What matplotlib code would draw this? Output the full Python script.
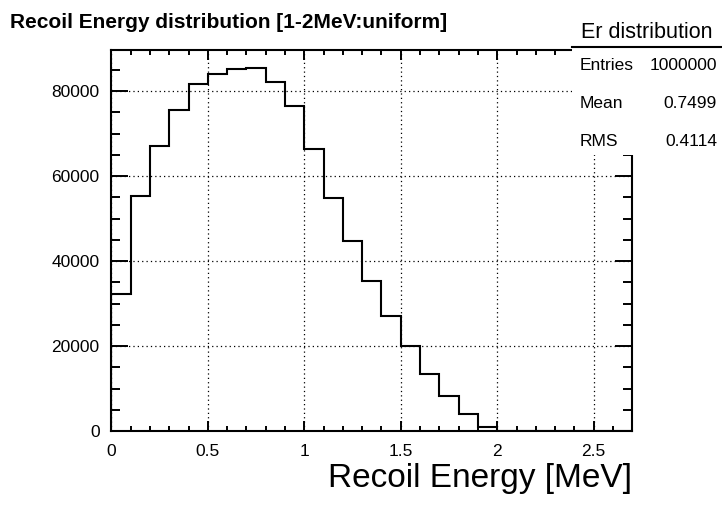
import numpy as np
import matplotlib
matplotlib.use('Agg')
import matplotlib.pyplot as plt
from matplotlib.ticker import MultipleLocator

plt.rcParams['font.family'] = ['Liberation Sans', 'DejaVu Sans']

# recoil energy histogram, 0.1 MeV bins from 0 to 2.7
edges = np.round(np.arange(0, 2.71, 0.1), 2)
counts = [32170, 55220, 67130, 75460, 81650, 84070, 85250, 85490, 82050, 76400,
          66280, 54900, 44780, 35370, 27130, 19950, 13490, 8160, 4000, 900,
          0, 0, 0, 0, 0, 0, 0]
stat_names = ['Entries', 'Mean', 'RMS']
stat_values = ['1000000', '0.7499', '0.4114']

fig = plt.figure(figsize=(7.22, 5.05), dpi=100)
ax = fig.add_axes([0.1542, 0.1465, 0.7216, 0.7545])

ax.stairs(counts, edges, color='black', lw=1.5)
ax.set_xlim(0, 2.7)
ax.set_ylim(0, 89650)

ax.xaxis.set_major_locator(MultipleLocator(0.5))
ax.xaxis.set_minor_locator(MultipleLocator(0.1))
ax.yaxis.set_major_locator(MultipleLocator(20000))
ax.yaxis.set_minor_locator(MultipleLocator(5000))
ax.set_xticks([0, 0.5, 1, 1.5, 2, 2.5])
ax.set_xticklabels(['0', '0.5', '1', '1.5', '2', '2.5'])
ax.tick_params(which='both', direction='in', top=True, right=True, labelsize=12.5)
ax.tick_params(axis='x', which='major', length=7.2, width=1.4, pad=9)
ax.tick_params(axis='x', which='minor', length=3.6, width=1.4)
ax.tick_params(axis='y', which='major', length=12, width=1.4, pad=8.5)
ax.tick_params(axis='y', which='minor', length=6.5, width=1.4)
for s in ax.spines.values():
    s.set_linewidth(1.5)
ax.grid(True, which='major', color='black', ls=(0, (1, 2.5)), lw=0.9)

ax.set_xlabel('Recoil Energy [MeV]', fontsize=24, loc='right', labelpad=3)

fig.text(0.014, 0.955, 'Recoil Energy distribution [1-2MeV:uniform]',
         fontsize=15, fontweight='bold', va='center', ha='left')

# stats box
box = plt.Rectangle((572 / 722, 1 - 155 / 505), 150 / 722, 143 / 505,
                    transform=fig.transFigure, facecolor='white', edgecolor='none', zorder=5)
fig.add_artist(box)
fig.add_artist(plt.Line2D([572 / 722, 1], [1 - 47 / 505] * 2, transform=fig.transFigure,
                          color='black', lw=1.5, zorder=6))
fig.text(647 / 722, 1 - 32 / 505, 'Er distribution', fontsize=15.5,
         ha='center', va='center', zorder=7)
for i, (n, v) in enumerate(zip(stat_names, stat_values)):
    y = 1 - (66 + i * 38) / 505
    fig.text(580 / 722, y, n, fontsize=12.5, ha='left', va='center', zorder=7)
    fig.text(717 / 722, y, v, fontsize=12.5, ha='right', va='center', zorder=7)

fig.savefig('out.png', dpi=100)
